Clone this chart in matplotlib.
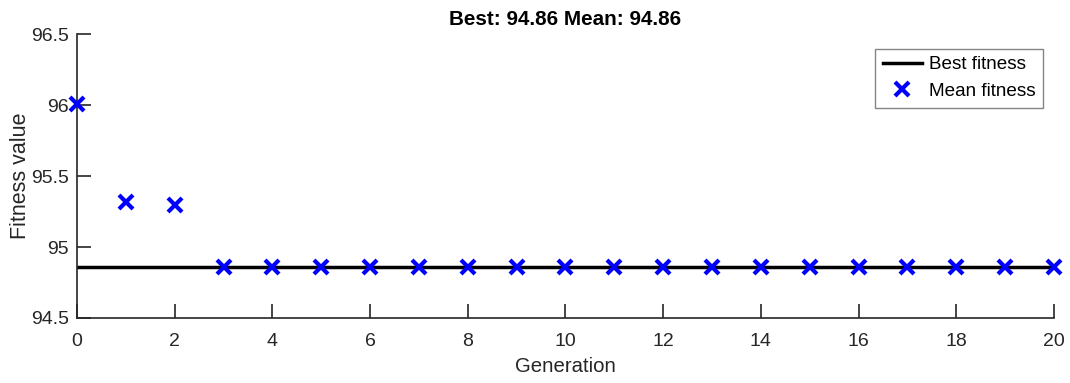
import matplotlib
matplotlib.use("Agg")
import matplotlib.pyplot as plt

generations = list(range(0, 21))
best_fitness = [94.86] * 21
mean_fitness = [96.01, 95.32, 95.30] + [94.86] * 18

plt.rcParams['font.family'] = ['Liberation Sans', 'DejaVu Sans']

fig = plt.figure(figsize=(10.70, 3.83), dpi=100)
ax = fig.add_axes([0.072, 0.170, 0.913, 0.740])

dark = (0.15, 0.15, 0.15)
ax.plot(generations, best_fitness, color='black', lw=2.5, label='Best fitness')
ax.plot(generations, mean_fitness, ls='none', marker='x', color='blue',
        ms=10, mew=3, label='Mean fitness', clip_on=False, zorder=5)

ax.set_xlim(0, 20)
ax.set_ylim(94.5, 96.5)
ax.set_xticks(range(0, 21, 2))
ax.set_yticks([94.5, 95, 95.5, 96, 96.5])
ax.set_yticklabels(['94.5', '95', '95.5', '96', '96.5'])

for side in ('top', 'right'):
    ax.spines[side].set_visible(False)
for side in ('left', 'bottom'):
    ax.spines[side].set_color(dark)
    ax.spines[side].set_linewidth(1.2)
ax.tick_params(direction='in', length=10, width=1.2, color=dark,
               labelcolor=dark, labelsize=14)
ax.tick_params(axis='x', pad=11)
ax.tick_params(axis='y', pad=6)

ax.set_xlabel('Generation', fontsize=14.7, color=dark, labelpad=5)
ax.set_ylabel('Fitness value', fontsize=15.5, color=dark, labelpad=0)
ax.set_title('Best: 94.86 Mean: 94.86', fontsize=14.9, fontweight='bold', pad=7)

leg = ax.legend(loc='upper right', bbox_to_anchor=(0.9888, 0.95), fontsize=13.6,
                frameon=True, fancybox=False, borderpad=0.4, handlelength=2.1,
                labelspacing=0.5, handletextpad=0.35, borderaxespad=0)
leg.get_frame().set_edgecolor((0.4, 0.4, 0.4))
leg.get_frame().set_linewidth(1.0)

fig.savefig('out.png', dpi=100)
